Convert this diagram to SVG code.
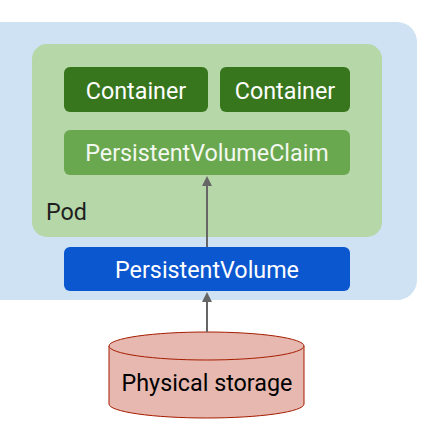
<svg xmlns="http://www.w3.org/2000/svg" width="435" height="433" viewBox="0 0 435 433">
<style>
text{font-family:Roboto,"Liberation Sans",sans-serif;font-size:23.3px;text-anchor:middle}
.w{fill:#ffffff}
.c{fill:#38761d}
.conn{stroke:#666666;stroke-width:2;fill:none}
</style>
<defs>
<marker id="ah" markerWidth="10" markerHeight="10" refX="5" refY="5" orient="auto" markerUnits="userSpaceOnUse" viewBox="0 0 10 10">
<path d="M0,0 L10,5 L0,10 z" fill="#666666"/>
</marker>
</defs>
<rect width="435" height="433" fill="#ffffff"/>
<g id="node">
<rect x="-30" y="22" width="447" height="278" rx="20" fill="#cfe2f3"/>
</g>
<g id="pod">
<rect x="32" y="44" width="350" height="193" rx="15" fill="#b6d7a8"/>
<text x="46" y="220" fill="#1f1f1f" style="text-anchor:start">Pod</text>
</g>
<g id="container1">
<rect x="64" y="67" width="144" height="45" rx="6" class="c"/>
<text x="136" y="99" class="w">Container</text>
</g>
<g id="container2">
<rect x="220" y="67" width="130" height="45" rx="6" class="c"/>
<text x="285" y="99" class="w">Container</text>
</g>
<g id="pvc">
<rect x="64" y="130" width="286" height="45" rx="6" fill="#6aa84f"/>
<text x="207" y="161" fill="#f3f8f0">PersistentVolumeClaim</text>
</g>
<g id="pv">
<rect x="64" y="247" width="286" height="44" rx="6" fill="#0b57d0"/>
<text x="207" y="278" class="w">PersistentVolume</text>
</g>
<g id="storage">
<path d="M109,346 L109,404 A97.5,14 0 0 0 304,404 L304,346" fill="#e6b8af" stroke="#a61c00" stroke-width="1"/>
<ellipse cx="206.5" cy="346" rx="97.5" ry="14" fill="#e6b8af" stroke="#a61c00" stroke-width="1"/>
<text x="207" y="391" fill="#000000">Physical storage</text>
</g>
<g id="connectors">
<line x1="207" y1="247" x2="207" y2="181" class="conn" marker-end="url(#ah)"/>
<line x1="207" y1="332" x2="207" y2="297" class="conn" marker-end="url(#ah)"/>
</g>
</svg>
